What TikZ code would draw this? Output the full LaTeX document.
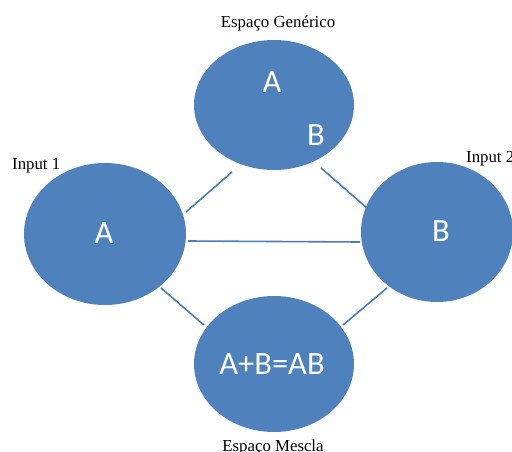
\documentclass[tikz,border=0pt]{standalone}
\usepackage{fontspec}
\setmainfont{Liberation Serif}
\newfontfamily\calib{Carlito}
\usetikzlibrary{shapes.geometric}
\definecolor{blobc}{HTML}{4F81BD}
\definecolor{edgec}{HTML}{4A7EBB}
\begin{document}
\begin{tikzpicture}[x=1pt,y=-1pt,
  blob/.style={ellipse, fill=blobc, draw=none, inner sep=0pt},
  big/.style={text=white, font=\calib\fontsize{32.5}{36}\selectfont, inner sep=0pt},
  lab/.style={font=\fontsize{16.8}{18}\selectfont, text=black, inner sep=0pt},
  link/.style={draw=edgec, line width=1.6pt}]
\useasboundingbox (0,0) rectangle (512,452);
% ellipses
\node[blob, minimum width=160pt, minimum height=130pt] (gen) at (274,105) {};
\node[blob, minimum width=162pt, minimum height=142pt] (in1) at (105,234) {};
\node[blob, minimum width=152pt, minimum height=140pt] (in2) at (437,232) {};
\node[blob, minimum width=160pt, minimum height=136pt] (mix) at (274,364) {};
% inner texts
\node[big] (ga) at (272,82) {A};
\node[big] (gb) at (316,135) {B};
\node[big] (ia) at (104,233) {A};
\node[big] (ib) at (441,231) {B};
\node[big] (mt) at (272,364) {A+B=AB};
% labels
\node[lab, anchor=base] (lgen) at (278,28) {Espaço Genérico};
\node[lab, anchor=base west] (lin1) at (12,169) {Input 1};
\node[lab, anchor=base west] (lin2) at (466,162) {Input 2};
\node[lab, anchor=base] (lmix) at (273,451) {Espaço Mescla};
% connector end points
\coordinate (p1) at (186,212); \coordinate (p2) at (232,172);
\coordinate (p3) at (321,168); \coordinate (p4) at (367,208);
\coordinate (p5) at (188,241); \coordinate (p6) at (360,242);
\coordinate (p7) at (161,288); \coordinate (p8) at (204,325);
\coordinate (p9) at (387,288); \coordinate (p10) at (343,325);
\draw[link] (p1) -- (p2);
\draw[link] (p3) -- (p4);
\draw[link] (p5) -- (p6);
\draw[link] (p7) -- (p8);
\draw[link] (p9) -- (p10);
\end{tikzpicture}
\end{document}
